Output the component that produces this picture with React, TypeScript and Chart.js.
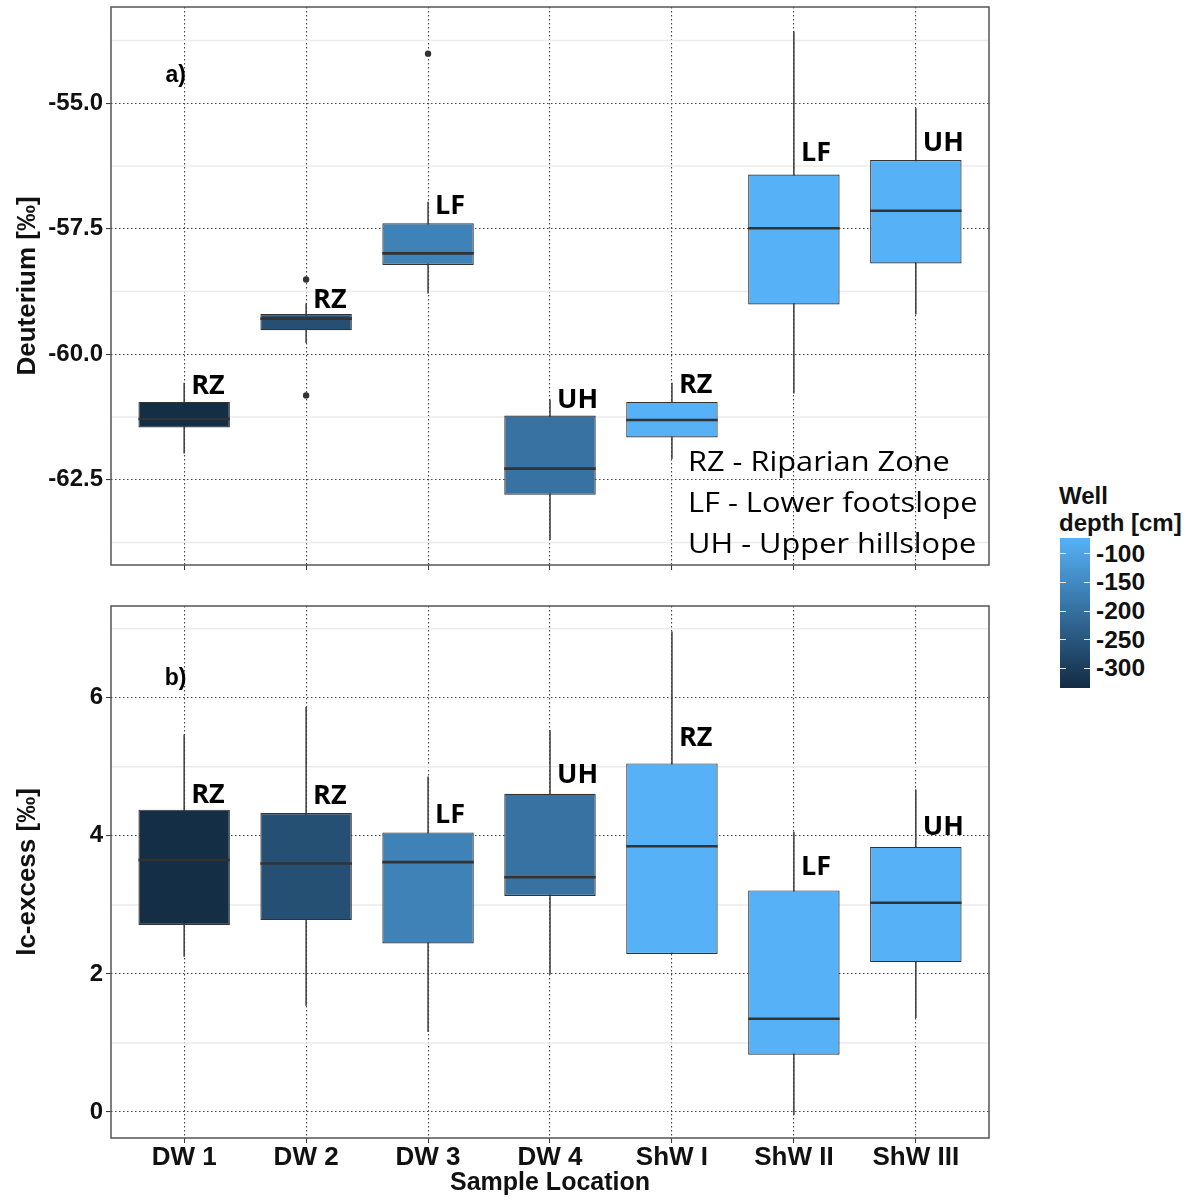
import React, { useEffect, useRef } from 'react';
import { Chart, registerables } from 'chart.js';
Chart.register(...registerables);

// ---------- data ----------
const categories = ['DW 1', 'DW 2', 'DW 3', 'DW 4', 'ShW I', 'ShW II', 'ShW III'];
const zones = ['RZ', 'RZ', 'LF', 'UH', 'RZ', 'LF', 'UH'];
const wellDepth = [-330, -265, -165, -195, -72, -72, -72];

// panel a) Deuterium
const deutMin = [-61.98, -59.78, -58.79, -63.7, -62.09, -60.78, -59.21];
const deutQ1 = [-61.46, -59.52, -58.22, -62.8, -61.66, -59.01, -58.19];
const deutMed = [-61.29, -59.29, -57.99, -62.28, -61.31, -57.49, -57.14];
const deutQ3 = [-60.95, -59.2, -57.39, -61.22, -60.95, -56.42, -56.13];
const deutMax = [-60.57, -58.99, -56.96, -60.9, -60.57, -53.57, -55.1];
const deutOutX = [2, 2, 3];
const deutOutY = [-58.51, -60.82, -54.01];
const deutLabelY = [-60.64, -58.92, -57.06, -60.92, -60.62, -56.0, -55.8];
const deutTicks = [-62.5, -60, -57.5, -55];
const deutMinor = [-63.75, -61.25, -58.75, -56.25, -53.75];

// panel b) lc-excess
const exMin = [2.25, 1.54, 1.16, 1.99, 2.29, -0.04, 1.36];
const exQ1 = [2.71, 2.78, 2.44, 3.13, 2.29, 0.83, 2.17];
const exMed = [3.65, 3.6, 3.62, 3.4, 3.85, 1.35, 3.03];
const exQ3 = [4.38, 4.33, 4.05, 4.61, 5.05, 3.21, 3.84];
const exMax = [5.47, 5.87, 4.86, 5.53, 6.96, 4.06, 4.67];
const exOutX: number[] = [];
const exOutY: number[] = [];
const exLabelY = [4.59, 4.57, 4.3, 4.87, 5.41, 3.54, 4.12];
const exTicks = [0, 2, 4, 6];
const exMinor = [1, 3, 5, 7];

const zoneLegend = ['RZ - Riparian Zone', 'LF - Lower footslope', 'UH - Upper hillslope'];
const depthTicks = [-100, -150, -200, -250, -300];
const depthRange = [-335, -72];

// ---------- styling ----------
const AX_FONT = '"Liberation Sans", Arial, sans-serif';
const LBL_FONT = '"Open Sans", sans-serif';
const LOW = [0x13, 0x2b, 0x43];
const HIGH = [0x56, 0xb1, 0xf7];

function depthColor(d: number) {
  const t = Math.max(0, Math.min(1, (d - depthRange[0]) / (depthRange[1] - depthRange[0])));
  const c = LOW.map((l, k) => Math.round(l + (HIGH[k] - l) * t));
  return `rgb(${c[0]},${c[1]},${c[2]})`;
}

type Panel = {
  lo: number[]; q1: number[]; med: number[]; q3: number[]; hi: number[];
  outX: number[]; outY: number[]; labelY: number[];
  ticks: number[]; minor: number[]; yMin: number; yMax: number;
  decimals: number; yTitle: string; showX: boolean; xHeight: number; padTop: number;
  tag: string; tagY: number; showZoneLegend: boolean;
};

function extrasPlugin(p: Panel) {
  return {
    id: 'extras',
    beforeDatasetsDraw(chart: any) {
      const { ctx, chartArea: a, scales } = chart;
      ctx.save();
      ctx.strokeStyle = '#ebebeb';
      ctx.lineWidth = 1.5;
      p.minor.forEach((v) => {
        const y = scales.y.getPixelForValue(v);
        if (y < a.top || y > a.bottom) return;
        ctx.beginPath();
        ctx.moveTo(a.left, y);
        ctx.lineTo(a.right, y);
        ctx.stroke();
      });
      ctx.restore();
    },
    afterDatasetsDraw(chart: any) {
      const { ctx, chartArea: a, scales } = chart;
      ctx.save();
      ctx.fillStyle = '#000';
      ctx.textAlign = 'left';
      ctx.textBaseline = 'middle';
      ctx.font = `bold 27px ${LBL_FONT}`;
      zones.forEach((z, i) => {
        const x = scales.x.getPixelForValue(i + 1) + 7;
        const y = scales.y.getPixelForValue(p.labelY[i]);
        ctx.fillText(z, x, y);
      });
      ctx.font = `bold 23px ${AX_FONT}`;
      ctx.textAlign = 'center';
      ctx.fillText(p.tag, scales.x.getPixelForValue(0.93), scales.y.getPixelForValue(p.tagY));
      if (p.showZoneLegend) {
        ctx.font = `500 27px ${LBL_FONT}`;
        ctx.textAlign = 'left';
        zoneLegend.forEach((t, k) => {
          ctx.save();
          ctx.translate(a.left + 577, a.top + 456 + k * 41);
          ctx.scale(1.14, 1);
          ctx.fillText(t, 0, 0);
          ctx.restore();
        });
      }
      ctx.strokeStyle = '#555';
      ctx.lineWidth = 1.5;
      ctx.strokeRect(a.left, a.top, a.right - a.left, a.bottom - a.top);
      ctx.restore();
    },
  };
}

function buildChart(canvas: HTMLCanvasElement, p: Panel) {
  const xs = categories.map((_, i) => i + 1);
  const colors = wellDepth.map(depthColor);
  return new Chart(canvas, {
    type: 'bar',
    data: {
      datasets: [
        {
          type: 'bar',
          label: 'box',
          data: xs.map((x, i) => ({ x, y: [p.q1[i], p.q3[i]] })),
          backgroundColor: colors,
          borderColor: '#333',
          borderWidth: 1.2,
          borderSkipped: false,
          grouped: false,
          categoryPercentage: 1,
          barPercentage: 0.75,
          order: 1,
        } as any,
        {
          type: 'bar',
          label: 'whisker',
          data: xs.map((x, i) => ({ x, y: [p.lo[i], p.hi[i]] })),
          backgroundColor: '#3a3a3a',
          borderWidth: 0,
          grouped: false,
          categoryPercentage: 1,
          barPercentage: 0.75,
          maxBarThickness: 1.5,
          order: 2,
        } as any,
        {
          type: 'scatter',
          label: 'median',
          data: xs.map((x, i) => ({ x, y: p.med[i] })),
          pointStyle: 'line',
          pointBorderColor: '#333',
          pointBorderWidth: 2.6,
          pointRadius: (c: any) => {
            const s = c.chart.scales.x;
            return s.getPixelForValue(1.375) - s.getPixelForValue(1);
          },
          order: 0,
        } as any,
        {
          type: 'scatter',
          label: 'outliers',
          data: p.outX.map((x, i) => ({ x, y: p.outY[i] })),
          pointStyle: 'circle',
          pointBackgroundColor: '#333',
          pointBorderColor: '#333',
          pointBorderWidth: 0,
          pointRadius: 3.2,
          order: 0,
        } as any,
      ],
    },
    options: {
      responsive: false,
      animation: false,
      events: [],
      layout: { padding: { top: p.padTop, right: 11, left: 0, bottom: 0 } },
      plugins: { legend: { display: false }, tooltip: { enabled: false } },
      scales: {
        x: {
          type: 'linear',
          min: 0.4,
          max: 7.6,
          offset: false,
          afterBuildTicks: (s: any) => {
            s.ticks = xs.map((v) => ({ value: v }));
          },
          afterFit: (s: any) => {
            s.height = p.xHeight;
            s.paddingLeft = 0;
            s.paddingRight = 0;
            s.paddingTop = 0;
            s.paddingBottom = 0;
          },
          ticks: {
            display: p.showX,
            autoSkip: false,
            maxRotation: 0,
            padding: 1.5,
            color: '#111',
            font: { family: AX_FONT, size: 26, weight: 'bold', lineHeight: 1 },
            callback: (v: any) => categories[Math.round(Number(v)) - 1] ?? '',
          },
          grid: { offset: false, color: '#444', lineWidth: 1.1, drawTicks: true, tickLength: 5, tickColor: '#333', tickWidth: 1, tickBorderDash: [] },
          border: { display: false, dash: [1.5, 2.5] },
          title: {
            display: p.showX,
            text: 'Sample Location',
            color: '#111',
            font: { family: AX_FONT, size: 25, weight: 'bold', lineHeight: 1.2 },
            padding: { top: 0, bottom: 2 },
          },
        } as any,
        y: {
          type: 'linear',
          min: p.yMin,
          max: p.yMax,
          afterBuildTicks: (s: any) => {
            s.ticks = p.ticks.map((v) => ({ value: v }));
          },
          afterFit: (s: any) => {
            s.width = 111;
            s.paddingTop = 0;
            s.paddingBottom = 0;
            s.paddingLeft = 0;
            s.paddingRight = 0;
          },
          ticks: {
            padding: 3,
            color: '#111',
            font: { family: AX_FONT, size: 24, weight: 'bold' },
            callback: (v: any) => Number(v).toFixed(p.decimals),
          },
          grid: { color: '#444', lineWidth: 1.1, drawTicks: true, tickLength: 5, tickColor: '#333', tickWidth: 1, tickBorderDash: [] },
          border: { display: false, dash: [1.5, 2.5] },
          title: {
            display: true,
            text: p.yTitle,
            color: '#111',
            font: { family: AX_FONT, size: 26, weight: 'bold', lineHeight: 1.2 },
            padding: { top: 12, bottom: 0 },
          },
        } as any,
      },
    },
    plugins: [extrasPlugin(p)],
  });
}

const panelA: Panel = {
  lo: deutMin, q1: deutQ1, med: deutMed, q3: deutQ3, hi: deutMax,
  outX: deutOutX, outY: deutOutY, labelY: deutLabelY,
  ticks: deutTicks, minor: deutMinor, yMin: -64.2, yMax: -53.08,
  decimals: 1, yTitle: 'Deuterium [‰]', showX: false, xHeight: 25, padTop: 7,
  tag: 'a)', tagY: -54.45, showZoneLegend: true,
};

const panelB: Panel = {
  lo: exMin, q1: exQ1, med: exMed, q3: exQ3, hi: exMax,
  outX: exOutX, outY: exOutY, labelY: exLabelY,
  ticks: exTicks, minor: exMinor, yMin: -0.377, yMax: 7.33,
  decimals: 0, yTitle: 'lc-excess [‰]', showX: true, xHeight: 62, padTop: 16,
  tag: 'b)', tagY: 6.28, showZoneLegend: false,
};

function PanelChart({ panel, top, height }: { panel: Panel; top: number; height: number }) {
  const ref = useRef<HTMLCanvasElement>(null);
  useEffect(() => {
    if (!ref.current) return;
    const chart = buildChart(ref.current, panel);
    return () => chart.destroy();
  }, [panel]);
  return (
    <canvas
      ref={ref}
      width={1000}
      height={height}
      style={{ position: 'absolute', left: 0, top, width: 1000, height }}
    />
  );
}

function ColorLegend() {
  const barTop = 538;
  const barH = 150;
  const pxPer = barH / (depthRange[1] - depthRange[0]);
  return (
    <div style={{ position: 'absolute', left: 0, top: 0 }}>
      <div
        style={{
          position: 'absolute', left: 1059, top: 482, font: `bold 24px ${AX_FONT}`,
          lineHeight: '27px', color: '#111', whiteSpace: 'nowrap',
        }}
      >
        Well
        <br />
        depth [cm]
      </div>
      <div
        style={{
          position: 'absolute', left: 1060, top: barTop, width: 30, height: barH,
          background: `linear-gradient(to bottom, ${depthColor(depthRange[1])}, ${depthColor(depthRange[0])})`,
        }}
      />
      {depthTicks.map((d) => {
        const y = barTop + (depthRange[1] - d) * pxPer;
        return (
          <React.Fragment key={d}>
            <div style={{ position: 'absolute', left: 1060, top: y - 0.5, width: 6, height: 1, background: '#e8e8e8' }} />
            <div style={{ position: 'absolute', left: 1084, top: y - 0.5, width: 6, height: 1, background: '#e8e8e8' }} />
            <div
              style={{
                position: 'absolute', left: 1096, top: y - 14, height: 28, lineHeight: '28px',
                font: `bold 24.5px ${AX_FONT}`, color: '#111',
              }}
            >
              {d}
            </div>
          </React.Fragment>
        );
      })}
    </div>
  );
}

export default function App() {
  return (
    <div style={{ position: 'absolute', left: 0, top: 0, width: 1189, height: 1200, background: '#fff' }}>
      <PanelChart panel={panelA} top={0} height={590} />
      <PanelChart panel={panelB} top={590} height={610} />
      <ColorLegend />
    </div>
  );
}
